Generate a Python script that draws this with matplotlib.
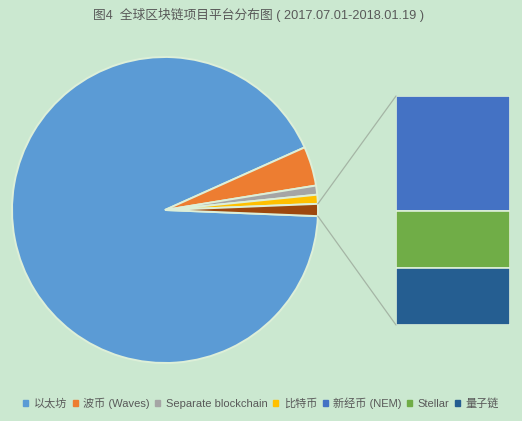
import matplotlib
matplotlib.use('Agg')
import numpy as np
import matplotlib.pyplot as plt
from matplotlib.patches import ConnectionPatch, Patch

plt.rcParams['font.family'] = ['Liberation Sans', 'Noto Sans CJK SC', 'DejaVu Sans']

BG = '#CBE8D0'
TEXT = '#595959'

title = '图4  全球区块链项目平台分布图 ( 2017.07.01-2018.01.19 )'
main_labels = ['以太坊', '波币 (Waves)', 'Separate blockchain', '比特币']
main_values = [290, 13, 3, 3]
main_colors = ['#5B9BD5', '#ED7D31', '#A5A5A5', '#FFC000']
other_labels = ['新经币 (NEM)', 'Stellar', '量子链']
other_values = [2, 1, 1]
other_colors = ['#4472C4', '#70AD47', '#255E91']
other_slice_color = '#9E480E'

W, H = 522, 421
fig = plt.figure(figsize=(W / 100, H / 100), dpi=100, facecolor=BG)

# pie axes in pixel units
cx, cy, r = 165, 210, 153
ax = fig.add_axes([(cx - r - 2) / W, 1 - (cy + r + 2) / H, (2 * r + 4) / W, (2 * r + 4) / H])
ax.set_facecolor('none')
other_total = sum(other_values)
values = main_values + [other_total]
total = sum(values)
start = -360 * other_total / total / 2
wedges, _ = ax.pie(values, colors=main_colors + [other_slice_color], startangle=start,
                   counterclock=False, radius=1.0,
                   wedgeprops=dict(edgecolor='#DDEFD8', linewidth=1.4))
ax.set_xlim(-(r + 2) / r, (r + 2) / r)
ax.set_ylim(-(r + 2) / r, (r + 2) / r)

# stacked bar of the "other" slice
bx0, bx1, by0, by1 = 396, 510, 96, 325
bax = fig.add_axes([bx0 / W, 1 - by1 / H, (bx1 - bx0) / W, (by1 - by0) / H])
bax.set_facecolor('none')
bottom = sum(other_values)
for v, c in zip(other_values, other_colors):
    bottom -= v
    bax.bar(0, v, bottom=bottom, width=1, color=c, edgecolor='#DDEFD8', linewidth=1.2)
bax.set_xlim(-0.5, 0.5)
bax.set_ylim(0, sum(other_values))
bax.axis('off')

# connector lines
w = wedges[-1]
for ang, ya in ((w.theta2, 4), (w.theta1, 0)):
    xy = (np.cos(np.radians(ang)), np.sin(np.radians(ang)))
    con = ConnectionPatch(xyA=xy, coordsA=ax.transData, xyB=(-0.5, ya), coordsB=bax.transData,
                          color='#A5B5A5', linewidth=0.9)
    fig.add_artist(con)

fig.text(259 / W, 1 - 15.5 / H, title, ha='center', va='center', fontsize=9.2, color=TEXT)

handles = [Patch(color=c, label=l) for c, l in zip(main_colors + other_colors, main_labels + other_labels)]
fig.legend(handles=handles, loc='center', bbox_to_anchor=(261 / W, 1 - 403 / H), ncol=7,
           frameon=False, fontsize=8, labelcolor=TEXT, handlelength=0.45, handleheight=0.45,
           handletextpad=0.5, columnspacing=0.5, borderpad=0, borderaxespad=0)

fig.savefig('out.png', dpi=100, facecolor=BG)
